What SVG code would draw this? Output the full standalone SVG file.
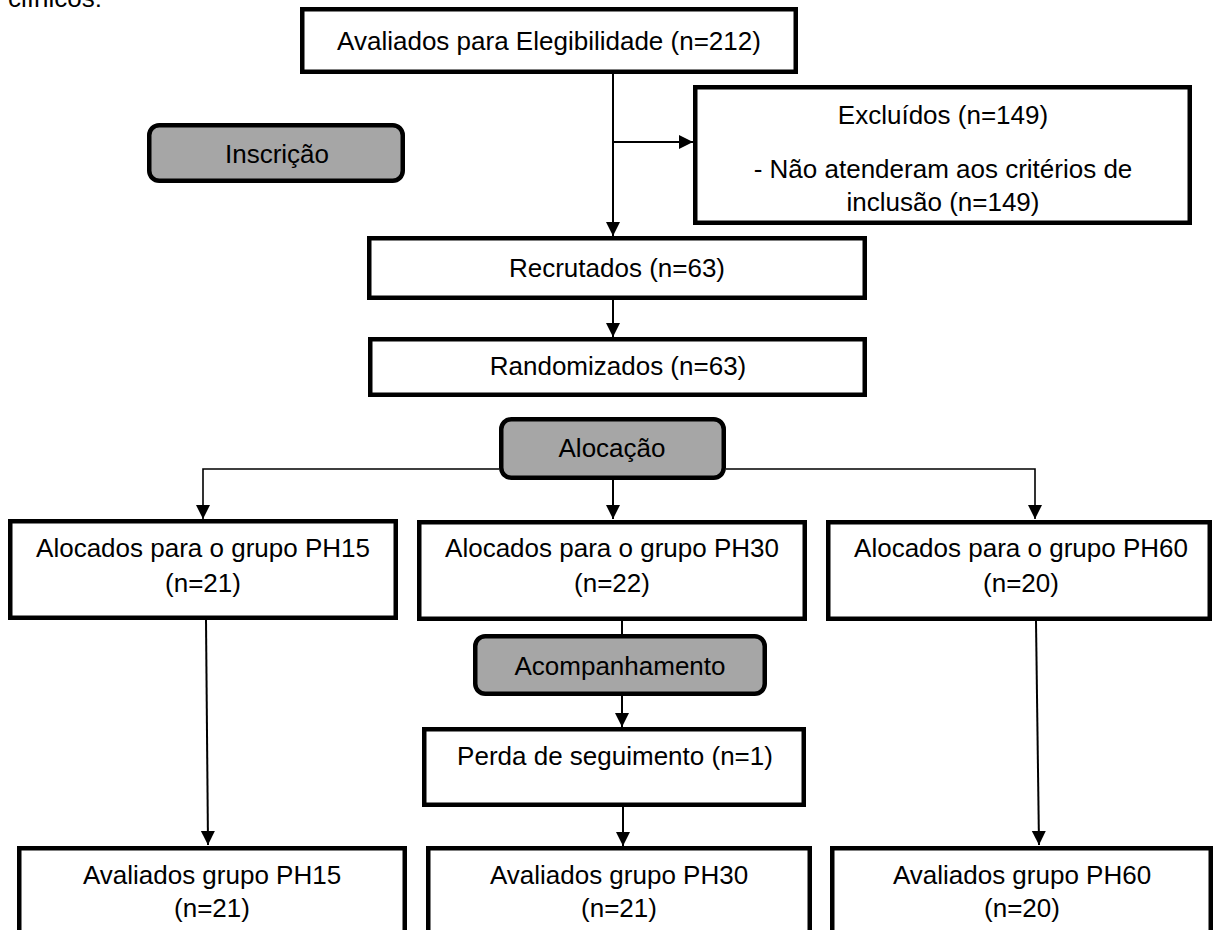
<svg xmlns="http://www.w3.org/2000/svg" width="1214" height="930" viewBox="0 0 1214 930">
<style>
.box{fill:#ffffff;stroke:#000000;stroke-width:4.5}
.stage{fill:#a6a6a6;stroke:#000000;stroke-width:4.5}
.t{font-family:"Liberation Sans",Arial,sans-serif;font-size:26px;fill:#000000;text-anchor:middle}
.c{fill:none;stroke:#000000;stroke-width:2}
.a{marker-end:url(#arr)}
</style>
<defs>
<marker id="arr" viewBox="0 0 10 10" refX="10" refY="5" markerUnits="userSpaceOnUse" markerWidth="14" markerHeight="15" orient="auto">
<path d="M0,0 L10,5 L0,10 z" fill="#000000"/>
</marker>
</defs>
<rect width="1214" height="930" fill="#ffffff"/>
<text x="8" y="7" class="t" style="text-anchor:start">clínicos:</text>

<g id="connectors">
<line class="c a" x1="613" y1="74" x2="613" y2="236"/>
<line class="c a" x1="613" y1="142" x2="693" y2="142"/>
<line class="c a" x1="613" y1="300" x2="613" y2="337"/>
<line class="c a" x1="613" y1="480" x2="613" y2="519"/>
<polyline class="c a" style="stroke-width:1.6" points="499,469 203,469 203,519"/>
<polyline class="c a" style="stroke-width:1.6" points="726,469 1035,469 1035,519"/>
<line class="c a" x1="206" y1="620" x2="208" y2="845"/>
<line class="c" x1="622" y1="621" x2="622" y2="634"/>
<line class="c a" x1="622" y1="696" x2="622" y2="727"/>
<line class="c a" x1="623" y1="807" x2="623" y2="846"/>
<line class="c a" x1="1036" y1="621" x2="1039" y2="845"/>
</g>

<g id="avaliados">
<rect class="box" x="302.25" y="9.25" width="493.5" height="62.5"/>
<text class="t" x="549" y="50">Avaliados para Elegibilidade (n=212)</text>
</g>
<g id="excluidos">
<rect class="box" x="695.25" y="87.25" width="494.5" height="135.5"/>
<text class="t" x="943" y="124">Excluídos (n=149)</text>
<text class="t" x="943" y="178">- Não atenderam aos critérios de</text>
<text class="t" x="943" y="211">inclusão (n=149)</text>
</g>
<g id="inscricao">
<rect class="stage" x="149.25" y="125.25" width="253.5" height="55.5" rx="10"/>
<text class="t" x="277" y="163">Inscrição</text>
</g>
<g id="recrutados">
<rect class="box" x="369.25" y="238.25" width="495.5" height="59.5"/>
<text class="t" x="617" y="277">Recrutados (n=63)</text>
</g>
<g id="randomizados">
<rect class="box" x="370.25" y="339.25" width="494.5" height="55.5"/>
<text class="t" x="618" y="375">Randomizados (n=63)</text>
</g>
<g id="alocacao">
<rect class="stage" x="501.25" y="419.25" width="222.5" height="58.5" rx="10"/>
<text class="t" x="612" y="457">Alocação</text>
</g>
<g id="ph15">
<rect class="box" x="10.25" y="521.25" width="385.5" height="96.5"/>
<text class="t" x="203" y="557">Alocados para o grupo PH15</text>
<text class="t" x="203" y="592">(n=21)</text>
</g>
<g id="ph30">
<rect class="box" x="419.25" y="522.25" width="385.5" height="96.5"/>
<text class="t" x="612" y="557">Alocados para o grupo PH30</text>
<text class="t" x="612" y="592">(n=22)</text>
</g>
<g id="ph60">
<rect class="box" x="828.25" y="522.25" width="381.5" height="96.5"/>
<text class="t" x="1021" y="557">Alocados para o grupo PH60</text>
<text class="t" x="1021" y="592">(n=20)</text>
</g>
<g id="acompanhamento">
<rect class="stage" x="475.25" y="636.25" width="289.5" height="57.5" rx="10"/>
<text class="t" x="620" y="675">Acompanhamento</text>
</g>
<g id="perda">
<rect class="box" x="424.25" y="729.25" width="379.5" height="75.5"/>
<text class="t" x="615" y="765">Perda de seguimento (n=1)</text>
</g>
<g id="eval15">
<rect class="box" x="19.25" y="848.25" width="385.5" height="100"/>
<text class="t" x="212" y="884">Avaliados grupo PH15</text>
<text class="t" x="212" y="917">(n=21)</text>
</g>
<g id="eval30">
<rect class="box" x="428.25" y="848.25" width="381.5" height="100"/>
<text class="t" x="619" y="884">Avaliados grupo PH30</text>
<text class="t" x="619" y="917">(n=21)</text>
</g>
<g id="eval60">
<rect class="box" x="832.25" y="848.25" width="378.5" height="100"/>
<text class="t" x="1022" y="884">Avaliados grupo PH60</text>
<text class="t" x="1022" y="917">(n=20)</text>
</g>
</svg>
